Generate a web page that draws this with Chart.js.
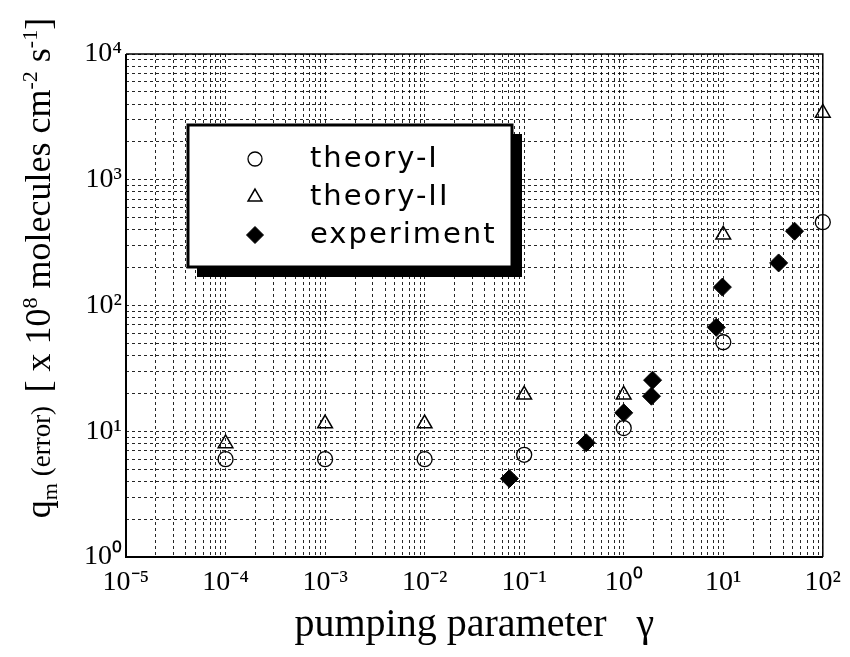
<!DOCTYPE html>
<html>
<head>
<meta charset="utf-8">
<script src="https://cdn.jsdelivr.net/npm/chart.js@4/dist/chart.umd.min.js"></script>
<style>
  body { margin: 0; background: #fff; }
  #wrap { width: 850px; height: 657px; position: relative; }
</style>
</head>
<body>
<div id="wrap"><canvas id="myChart"></canvas></div>
<script>
// values (log-log)
const gammaTheory = [1e-4, 1e-3, 1e-2, 1e-1, 1, 10, 100];
const theoryI = [6.0, 6.0, 6.0, 6.5, 10.6, 51, 460];
const theoryII = [8.0, 11.5, 11.5, 19.5, 19.5, 365, 3400];
const gammaExp = [0.071, 0.42, 1.0, 1.9, 1.95, 8.5, 9.8, 36, 52];
const experiment = [4.2, 8.1, 14, 19, 25.5, 67, 140, 218, 390];

const seriesNames = ['theory-I', 'theory-II', 'experiment'];
const xDecades = [-5, -4, -3, -2, -1, 0, 1, 2];
const yDecades = [0, 1, 2, 3, 4];

const SUP = {'-': '\u207B', '0': '\u2070', '1': '\u00B9', '2': '\u00B2', '3': '\u00B3',
  '4': '\u2074', '5': '\u2075', '6': '\u2076', '7': '\u2077', '8': '\u2078', '9': '\u2079'};
const powLabel = (e) => '10' + String(e).split('').map(c => SUP[c]).join('');

// 1..9 x 10^n for every decade, last decade only its major
function logTicks(decades) {
  const out = [];
  decades.forEach((e, i) => {
    const last = i === decades.length - 1;
    for (let m = 1; m <= (last ? 1 : 9); m++) {
      out.push({value: Number((m * Math.pow(10, e)).toPrecision(3))});
    }
  });
  return out;
}

function isMajor(v) {
  const l = Math.log10(v);
  return Math.abs(l - Math.round(l)) < 1e-9;
}

const toPoints = (xs, ys) => xs.map((x, i) => ({x: x, y: ys[i]}));

const serif = '"Liberation Serif", "Times New Roman", serif';

// y title with subscript / superscripts
const yTitleParts = [
  ['q', 36, 0], ['m', 22, 7], [' (error)  ', 27, 0], ['[ x 10', 36, 0], ['8', 22, -13],
  [' molecules cm', 36, 0], ['-2', 22, -13], [' s', 36, 0], ['-1', 22, -13], [']', 36, 0]
];

const yTitlePlugin = {
  id: 'yTitle',
  afterDraw(chart) {
    const ctx = chart.ctx;
    ctx.save();
    ctx.translate(38, 268);
    ctx.rotate(-Math.PI / 2);
    ctx.fillStyle = '#000';
    ctx.textBaseline = 'alphabetic';
    let total = 0;
    yTitleParts.forEach(p => { ctx.font = p[1] + 'px ' + serif; total += ctx.measureText(p[0]).width; });
    let x = -total / 2;
    yTitleParts.forEach(p => {
      ctx.font = p[1] + 'px ' + serif;
      ctx.fillText(p[0], x, 12 + p[2]);
      x += ctx.measureText(p[0]).width;
    });
    ctx.restore();
  }
};

const framePlugin = {
  id: 'frame',
  afterDatasetsDraw(chart) {
    const {left, right, top, bottom} = chart.chartArea;
    const ctx = chart.ctx;
    ctx.save();
    ctx.strokeStyle = '#000';
    ctx.lineWidth = 1.5;
    ctx.beginPath();
    ctx.moveTo(left, top); ctx.lineTo(right, top); ctx.lineTo(right, bottom);
    ctx.stroke();
    ctx.lineWidth = 2;
    ctx.beginPath();
    ctx.moveTo(left, top); ctx.lineTo(left, bottom); ctx.lineTo(right, bottom);
    ctx.stroke();
    ctx.restore();
  }
};

const legendBox = {
  id: 'legendBox',
  afterDraw(chart) {
    const ctx = chart.ctx;
    const x = 188, y = 125, w = 324, h = 142;
    ctx.save();
    ctx.fillStyle = '#000';
    ctx.fillRect(x + 9, y + 9, w + 1, h + 1);
    ctx.fillStyle = '#fff';
    ctx.fillRect(x, y, w, h);
    ctx.lineWidth = 3;
    ctx.strokeStyle = '#000';
    ctx.strokeRect(x, y, w, h);
    chart.data.datasets.forEach((ds, i) => {
      const cy = y + 34 + i * 38;
      ctx.fillStyle = ds.backgroundColor;
      ctx.strokeStyle = ds.borderColor;
      ctx.lineWidth = ds.borderWidth;
      Chart.helpers.drawPoint(ctx, {pointStyle: ds.pointStyle, radius: ds.pointRadius - 0.5, borderWidth: ds.borderWidth}, x + 67, cy);
      ctx.fillStyle = '#000';
      ctx.font = '29px "DejaVu Sans", sans-serif';
      ctx.letterSpacing = '2px';
      ctx.textBaseline = 'middle';
      ctx.fillText(ds.label, x + 122, cy);
    });
    ctx.restore();
  }
};

let ctx = document.getElementById('myChart').getContext('2d');

new Chart(ctx, {
  type: 'scatter',
  data: {
    datasets: [{
      label: seriesNames[0],
      data: toPoints(gammaTheory, theoryI),
      pointStyle: 'circle',
      pointRadius: 7.5,
      backgroundColor: 'rgba(0,0,0,0)',
      borderColor: '#000',
      borderWidth: 1.3,
      clip: false
    }, {
      label: seriesNames[1],
      data: toPoints(gammaTheory, theoryII),
      pointStyle: 'triangle',
      pointRadius: 8.5,
      backgroundColor: 'rgba(0,0,0,0)',
      borderColor: '#000',
      borderWidth: 1.5,
      clip: false
    }, {
      label: seriesNames[2],
      data: toPoints(gammaExp, experiment),
      pointStyle: 'rectRot',
      pointRadius: 9,
      backgroundColor: '#000',
      borderColor: '#000',
      borderWidth: 1,
      clip: false
    }]
  },
  options: {
    responsive: true,
    maintainAspectRatio: false,
    animation: false,
    layout: { padding: { top: 54, right: 18, bottom: 0, left: 0 } },
    plugins: {
      legend: { display: false },
      tooltip: { enabled: false }
    },
    scales: {
      x: {
        type: 'logarithmic',
        min: 1e-5,
        max: 100,
        afterBuildTicks: (s) => { s.ticks = logTicks(xDecades); },
        afterFit: (s) => { s.height = 100; },
        ticks: {
          autoSkip: false,
          maxRotation: 0,
          minRotation: 0,
          padding: 9,
          color: '#000',
          font: { family: serif, size: 28 },
          callback: (v) => isMajor(v) ? powLabel(Math.round(Math.log10(v))) : ''
        },
        grid: { color: 'rgba(0,0,0,0.85)', lineWidth: 1, drawTicks: false },
        border: { display: false, dash: [3, 3] },
        title: {
          display: true,
          text: 'pumping parameter   \u03B3',
          color: '#000',
          font: { family: serif, size: 40 },
          padding: { top: 0, bottom: 8 }
        }
      },
      y: {
        type: 'logarithmic',
        min: 1,
        max: 10000,
        afterBuildTicks: (s) => { s.ticks = logTicks(yDecades); },
        afterFit: (s) => { s.width = 126; },
        ticks: {
          autoSkip: false,
          padding: 4,
          color: '#000',
          font: { family: serif, size: 28 },
          callback: (v) => isMajor(v) ? powLabel(Math.round(Math.log10(v))) : ''
        },
        grid: { color: 'rgba(0,0,0,0.85)', lineWidth: 1, drawTicks: false },
        border: { display: false, dash: [3, 3] }
      }
    }
  },
  plugins: [framePlugin, legendBox, yTitlePlugin]
});
</script>
</body>
</html>
